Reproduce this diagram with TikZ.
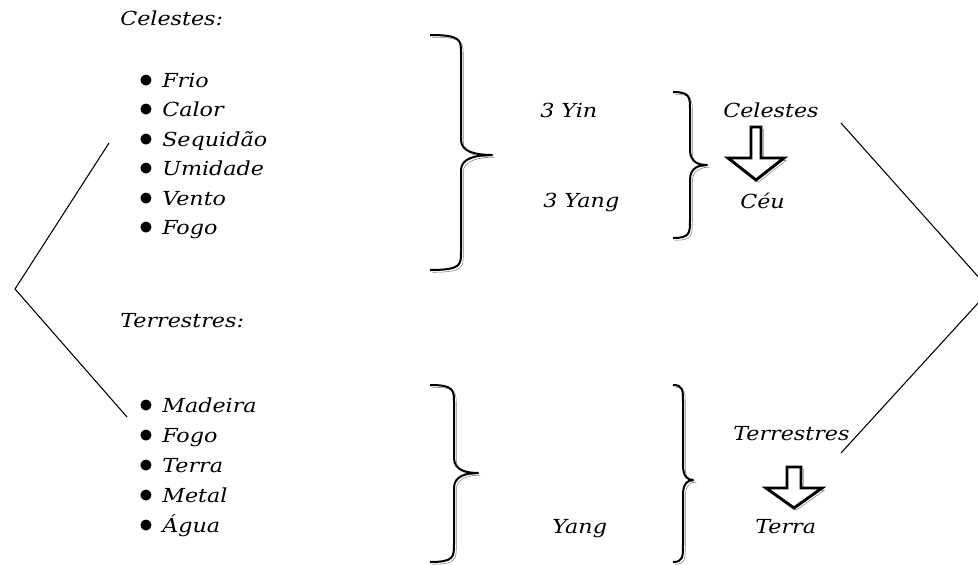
\documentclass[tikz,border=0pt]{standalone}
\usepackage{fontspec}
\setmainfont{DejaVu Serif}[FakeStretch=1.15]
\usetikzlibrary{calc, positioning}

\tikzset{
  lbl/.style={font=\fontsize{14.5}{17}\selectfont\itshape, inner sep=0pt, anchor=base west},
  item/.style={lbl, execute at begin node={\llap{\scalebox{1.45}{$\bullet$}\hspace{7pt}}}},
  link/.style={line width=0.8pt},
  shadowed/.style={preaction={draw=black!50, transform canvas={xshift=1.7pt, yshift=-1.7pt}}},
  pics/curly/.style args={#1/#2/#3}{code={
    \draw[line width=1.5pt, line join=round, shadowed] (0,0) .. controls (#3,0) and (#3,5) .. (#3,18)
      -- (#3,#2-15) .. controls (#3,#2-3) and (1.5*#3,#2) .. (2*#3,#2)
      .. controls (1.5*#3,#2) and (#3,#2+3) .. (#3,#2+15)
      -- (#3,#1-18) .. controls (#3,#1-5) and (#3,#1) .. (0,#1);
  }},
  pics/downarrow/.style args={#1/#2/#3/#4}{code={
    \draw[line width=2.2pt, fill=white, shadowed] (-#2,0) -- (-#2,#1-#4) -- (-#3,#1-#4)
      -- (0,#1) -- (#3,#1-#4) -- (#2,#1-#4) -- (#2,0) -- cycle;
  }}
}

\begin{document}
\begin{tikzpicture}
      [x=0.75pt, y=-0.75pt]
      \useasboundingbox (0,0) rectangle (978,564);
      \clip (0,0) rectangle (978,564);

      % celestes %
      \node[lbl] (celtitle) at (120,26) {Celestes:};
      \node[item] (frio) at (162,87) {Frio};
      \node[item] (calor) at (162,116.5) {Calor};
      \node[item] (sequidao) at (162,146) {Sequidão};
      \node[item] (umidade) at (162,175.5) {Umidade};
      \node[item] (vento) at (162,205) {Vento};
      \node[item] (fogoc) at (162,234.5) {Fogo};

      % terrestres %
      \node[lbl] (terrtitle) at (120,327) {Terrestres:};
      \node[item] (madeira) at (162,412) {Madeira};
      \node[item] (fogot) at (162,442) {Fogo};
      \node[item] (terrat) at (162,472) {Terra};
      \node[item] (metal) at (162,502) {Metal};
      \node[item] (agua) at (162,532) {Água};

      % right side %
      \node[lbl] (yin) at (540,117) {3 Yin};
      \node[lbl] (yang) at (543,207) {3 Yang};
      \node[lbl] (celr) at (723,117) {Celestes};
      \node[lbl] (ceu) at (740,208) {Céu};
      \node[lbl] (yangt) at (552,533) {Yang};
      \node[lbl] (terrr) at (733,440) {Terrestres};
      \node[lbl] (terra) at (755,533) {Terra};

      % braces %
      \pic at (430,35) {curly={235/120/31}};
      \pic at (673,92) {curly={146/73/17}};
      \pic at (430,385) {curly={177/88/24}};
      \pic at (673,385) {curly={177/95/10}};

      % arrows %
      \pic at (756,127) {downarrow={53/5/28/22}};
      \pic at (794,467) {downarrow={41/7/28/20}};

      % links %
      \coordinate (ltop) at (109,143);
      \coordinate (lvert) at (15,289);
      \coordinate (lbot) at (127,417);
      \coordinate (rtop) at (841,123);
      \coordinate (rvert) at (990,290);
      \coordinate (rbot) at (841,453);
      \draw[link] (ltop) -- (lvert) -- (lbot);
      \draw[link] (rtop) -- (rvert) -- (rbot);

    \end{tikzpicture}
\end{document}
